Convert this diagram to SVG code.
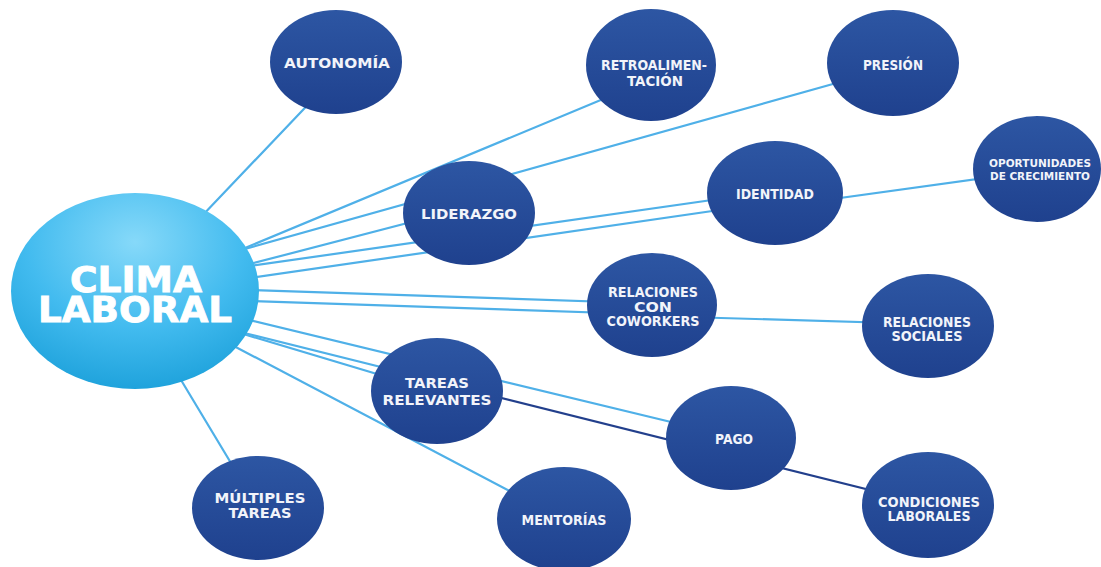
<svg xmlns="http://www.w3.org/2000/svg" width="1101" height="567" viewBox="0 0 1101 567">
  <defs>
    <radialGradient id="gClima" cx="50%" cy="25%" r="80%">
      <stop offset="0" stop-color="#86d9f9"/>
      <stop offset="0.55" stop-color="#42bbef"/>
      <stop offset="1" stop-color="#1a9fd9"/>
    </radialGradient>
    <linearGradient id="gNode" x1="0" y1="0" x2="0" y2="1">
      <stop offset="0" stop-color="#2d56a3"/>
      <stop offset="1" stop-color="#1f418e"/>
    </linearGradient>
  </defs>
  <style>
    .bg { fill: #ffffff; }
    .edge { stroke: #4fb0e8; stroke-width: 2.2; fill: none; stroke-linecap: round; }
    .edge-dark { stroke: #223f8c; stroke-width: 2.2; fill: none; stroke-linecap: round; }
    .node ellipse { fill: url(#gNode); }
    .node text { font-family: "DejaVu Sans", "Liberation Sans", sans-serif; font-weight: bold; font-size: 13.5px; fill: #f2f4fa; text-anchor: middle; }
    .node text.small { font-size: 10.5px; }
    .clima ellipse { fill: url(#gClima); }
    .clima text { font-family: "DejaVu Sans", "Liberation Sans", sans-serif; font-weight: bold; font-size: 36px; fill: #ffffff; stroke: #ffffff; stroke-width: 0.9; text-anchor: middle; }
  </style>
  <rect class="bg" x="0" y="0" width="1101" height="567"/>

  <g id="connectors">
    <line class="edge" x1="200" y1="218" x2="320" y2="92"/>
    <line class="edge" x1="245" y1="248" x2="620" y2="92"/>
    <line class="edge" x1="245" y1="249" x2="865" y2="75"/>
    <line class="edge" x1="250" y1="264" x2="469" y2="207"/>
    <line class="edge" x1="250" y1="266" x2="740" y2="196"/>
    <line class="edge" x1="250" y1="278" x2="740" y2="207"/>
    <line class="edge" x1="250" y1="290" x2="640" y2="303"/>
    <line class="edge" x1="250" y1="301" x2="640" y2="314"/>
    <line class="edge" x1="245" y1="319" x2="700" y2="429"/>
    <line class="edge" x1="240" y1="332" x2="437" y2="381"/>
    <line class="edge" x1="240" y1="333" x2="437" y2="392"/>
    <line class="edge" x1="230" y1="344" x2="563" y2="519"/>
    <line class="edge" x1="175" y1="370" x2="258" y2="508"/>
    <line class="edge" x1="652" y1="316" x2="926" y2="324"/>
    <line class="edge" x1="775" y1="207" x2="1036" y2="171"/>
    <line class="edge-dark" x1="437" y1="382" x2="926" y2="504"/>
  </g>

  <g id="node-clima" class="clima">
    <ellipse cx="135" cy="291" rx="124" ry="98"/>
    <text x="136" y="292" textLength="132" lengthAdjust="spacingAndGlyphs">CLIMA</text>
    <text x="135" y="322" textLength="194" lengthAdjust="spacingAndGlyphs">LABORAL</text>
  </g>

  <g id="node-autonomia" class="node">
    <ellipse cx="336" cy="62" rx="66" ry="52"/>
    <text x="337" y="68" textLength="106" lengthAdjust="spacingAndGlyphs">AUTONOMÍA</text>
  </g>
  <g id="node-retro" class="node">
    <ellipse cx="651" cy="65" rx="65" ry="56"/>
    <text x="654" y="70" textLength="106" lengthAdjust="spacingAndGlyphs">RETROALIMEN-</text>
    <text x="655" y="86" textLength="56" lengthAdjust="spacingAndGlyphs">TACIÓN</text>
  </g>
  <g id="node-presion" class="node">
    <ellipse cx="893" cy="63" rx="66" ry="53"/>
    <text x="893" y="70" textLength="60" lengthAdjust="spacingAndGlyphs">PRESIÓN</text>
  </g>
  <g id="node-liderazgo" class="node">
    <ellipse cx="469" cy="213" rx="66" ry="52"/>
    <text x="469" y="219" textLength="96" lengthAdjust="spacingAndGlyphs">LIDERAZGO</text>
  </g>
  <g id="node-identidad" class="node">
    <ellipse cx="775" cy="193" rx="68" ry="52"/>
    <text x="775" y="199" textLength="78" lengthAdjust="spacingAndGlyphs">IDENTIDAD</text>
  </g>
  <g id="node-oportunidades" class="node">
    <ellipse cx="1037" cy="169" rx="64" ry="53"/>
    <text class="small" x="1040" y="167" textLength="102" lengthAdjust="spacingAndGlyphs">OPORTUNIDADES</text>
    <text class="small" x="1040" y="180" textLength="100" lengthAdjust="spacingAndGlyphs">DE CRECIMIENTO</text>
  </g>
  <g id="node-rcc" class="node">
    <ellipse cx="652" cy="305" rx="65" ry="52"/>
    <text x="653" y="297" textLength="90" lengthAdjust="spacingAndGlyphs">RELACIONES</text>
    <text x="653" y="312" textLength="38" lengthAdjust="spacingAndGlyphs">CON</text>
    <text x="653" y="326" textLength="93" lengthAdjust="spacingAndGlyphs">COWORKERS</text>
  </g>
  <g id="node-sociales" class="node">
    <ellipse cx="928" cy="326" rx="66" ry="52"/>
    <text x="927" y="327" textLength="88" lengthAdjust="spacingAndGlyphs">RELACIONES</text>
    <text x="927" y="341" textLength="71" lengthAdjust="spacingAndGlyphs">SOCIALES</text>
  </g>
  <g id="node-tareas" class="node">
    <ellipse cx="437" cy="391" rx="66" ry="53"/>
    <text x="437" y="388" textLength="64" lengthAdjust="spacingAndGlyphs">TAREAS</text>
    <text x="437" y="405" textLength="109" lengthAdjust="spacingAndGlyphs">RELEVANTES</text>
  </g>
  <g id="node-pago" class="node">
    <ellipse cx="731" cy="438" rx="65" ry="52"/>
    <text x="734" y="444" textLength="38" lengthAdjust="spacingAndGlyphs">PAGO</text>
  </g>
  <g id="node-condiciones" class="node">
    <ellipse cx="928" cy="505" rx="66" ry="53"/>
    <text x="929" y="507" textLength="102" lengthAdjust="spacingAndGlyphs">CONDICIONES</text>
    <text x="929" y="521" textLength="83" lengthAdjust="spacingAndGlyphs">LABORALES</text>
  </g>
  <g id="node-mentorias" class="node">
    <ellipse cx="564" cy="519" rx="67" ry="52"/>
    <text x="564" y="525" textLength="85" lengthAdjust="spacingAndGlyphs">MENTORÍAS</text>
  </g>
  <g id="node-multiples" class="node">
    <ellipse cx="258" cy="508" rx="66" ry="52"/>
    <text x="260" y="503" textLength="91" lengthAdjust="spacingAndGlyphs">MÚLTIPLES</text>
    <text x="260" y="518" textLength="63" lengthAdjust="spacingAndGlyphs">TAREAS</text>
  </g>
</svg>
